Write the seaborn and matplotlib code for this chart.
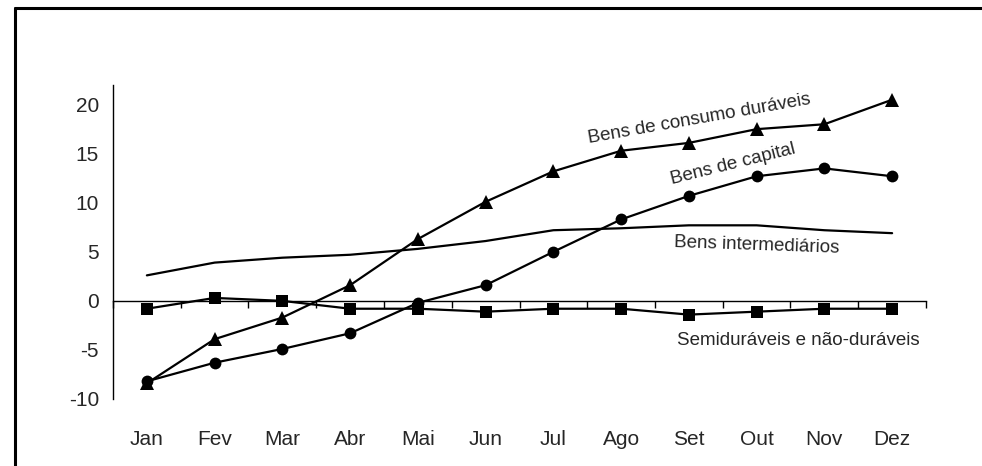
import numpy as np
import pandas as pd
import seaborn as sns
import matplotlib.pyplot as plt
from matplotlib.lines import Line2D

months = ["Jan", "Fev", "Mar", "Abr", "Mai", "Jun",
          "Jul", "Ago", "Set", "Out", "Nov", "Dez"]

duraveis = [-8.4, -3.9, -1.7, 1.6, 6.3, 10.1, 13.2, 15.3, 16.1, 17.5, 18.0, 20.5]
capital = [-8.2, -6.3, -4.9, -3.3, -0.2, 1.6, 5.0, 8.3, 10.7, 12.7, 13.5, 12.7]
intermediarios = [2.6, 3.9, 4.4, 4.7, 5.3, 6.1, 7.2, 7.4, 7.7, 7.7, 7.2, 6.9]
semiduraveis = [-0.8, 0.3, 0.0, -0.8, -0.8, -1.1, -0.8, -0.8, -1.4, -1.1, -0.8, -0.8]

yticks = [-10, -5, 0, 5, 10, 15, 20]


def main():
    sns.set_style("white")
    plt.rcParams['font.family'] = ['Liberation Sans', 'DejaVu Sans']

    fig = plt.figure(figsize=(9.82, 4.66), dpi=100)
    ax = fig.add_axes([113 / 982, 1 - 399 / 466, (926 - 113) / 982, (399 - 85) / 466])

    x = np.arange(len(months))
    series = [
        (intermediarios, None, 0),
        (semiduraveis, "s", 8.5),
        (capital, "o", 8.5),
        (duraveis, "^", 10),
    ]
    for vals, mk, ms in series:
        df = pd.DataFrame({"x": x, "y": vals})
        sns.lineplot(data=df, x="x", y="y", ax=ax, color="black", linewidth=1.6,
                     marker=mk, markersize=ms, markeredgewidth=0, sort=False)

    ax.set_xlim(-0.5, len(months) - 0.5)
    ax.set_ylim(-10, 22)
    ax.set_xlabel("")
    ax.set_ylabel("")

    for s in ["top", "right", "bottom"]:
        ax.spines[s].set_visible(False)
    ax.spines["left"].set_linewidth(1.0)
    ax.spines["left"].set_color("black")

    ax.set_yticks(yticks)
    ax.set_yticklabels([str(v) for v in yticks], fontsize=15)
    ax.tick_params(axis="y", direction="out", length=5, width=1, color="black", pad=5)

    ax.set_xticks(x)
    ax.set_xticklabels(months, fontsize=15)
    ax.tick_params(axis="x", length=0, pad=22)

    # x axis line at zero with ticks between months
    zero_pos = (0 - (-10)) / (22 - (-10))
    sec = ax.secondary_xaxis(zero_pos)
    sec.set_xticks(np.arange(-0.5, len(months), 1.0))
    sec.set_xticklabels([])
    sec.tick_params(direction="out", length=5, width=1, color="black")
    sec.spines["bottom"].set_linewidth(1.0)
    sec.spines["bottom"].set_color("black")

    # series labels
    ax.text(8.16, 18.5, "Bens de consumo duráveis", fontsize=13.5, rotation=10,
            ha="center", va="center", rotation_mode="anchor")
    ax.text(8.65, 13.9, "Bens de capital", fontsize=13.5, rotation=14,
            ha="center", va="center", rotation_mode="anchor")
    ax.text(9.0, 5.7, "Bens intermediários", fontsize=13.5, rotation=-2,
            ha="center", va="center", rotation_mode="anchor")
    ax.text(9.61, -4.0, "Semiduráveis e não-duráveis", fontsize=13.5,
            ha="center", va="center")

    # outer frame (only top and left edges visible)
    fx = 14.5 / 982
    fy = 1 - 7.5 / 466
    fig.add_artist(Line2D([fx, fx], [-0.1, fy], transform=fig.transFigure,
                          color="black", linewidth=2.2))
    fig.add_artist(Line2D([fx, 1.1], [fy, fy], transform=fig.transFigure,
                          color="black", linewidth=2.2))

    fig.savefig("out.png", dpi=100)


if __name__ == "__main__":
    main()
